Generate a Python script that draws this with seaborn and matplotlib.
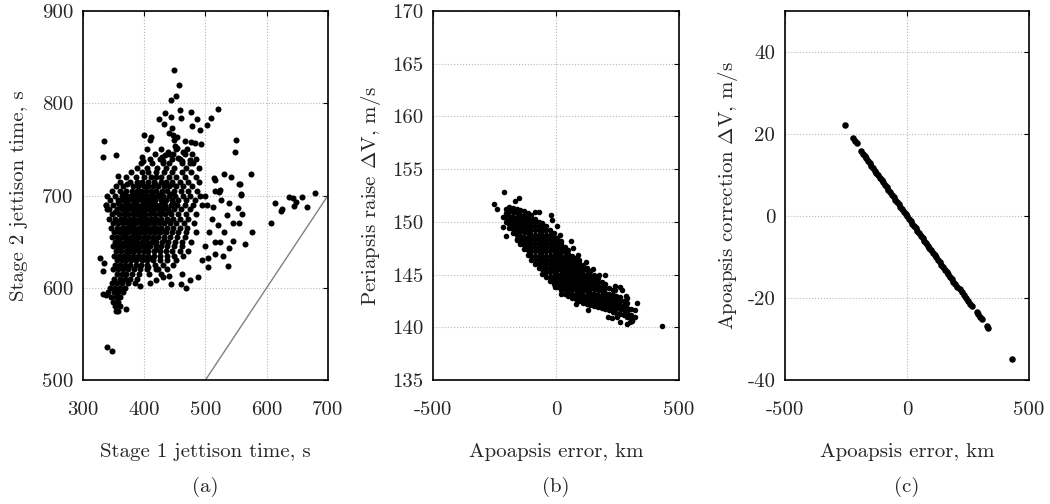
import matplotlib
matplotlib.use("Agg")
import matplotlib.pyplot as plt
import seaborn as sns
import pandas as pd

# === (a) stage jettison times, s: dense core as rows (stage 2 value: stage 1 values) ===
core_rows_a = [
    (750, [405, 428, 452, 470]),
    (745, [418, 440, 447, 478]),
    (740, [410, 425, 445, 458, 485]),
    (735, [395, 412, 431, 441, 462, 480]),
    (730, [389, 404, 421, 436, 449, 468, 490]),
    (725, [378, 396, 407, 420, 433, 445, 461, 476]),
    (720, [370, 386, 399, 411, 419, 428, 440, 452, 467, 484]),
    (715, [360, 377, 389, 397, 407, 416, 427, 436, 446, 458, 472, 489]),
    (712, [372, 394, 418, 445]),
    (710, [354, 366, 381, 390, 399, 406, 414, 423, 432, 441, 452, 463, 478]),
    (705, [348, 361, 371, 380, 388, 395, 403, 411, 420, 429, 437, 448, 460, 471, 486]),
    (702, [366, 381, 396, 412, 427, 444]),
    (700, [339, 352, 363, 370, 377, 385, 392, 399, 407, 415, 423, 431, 440, 450, 463, 475, 491]),
    (695, [344, 357, 366, 374, 381, 388, 396, 403, 410, 418, 427, 435, 445, 456, 469, 483]),
    (692, [357, 372, 386, 400, 415, 430, 447]),
    (690, [337, 349, 360, 368, 375, 382, 389, 396, 404, 411, 419, 426, 434, 443, 453, 466, 479, 495]),
    (685, [343, 355, 363, 371, 378, 385, 392, 399, 407, 414, 422, 430, 439, 449, 460, 474]),
    (682, [353, 370, 384, 398, 412, 427, 441]),
    (680, [348, 359, 367, 374, 381, 388, 395, 402, 409, 417, 425, 434, 444, 455, 468, 485]),
    (675, [342, 353, 362, 369, 377, 384, 391, 398, 405, 413, 420, 428, 437, 447, 459, 472]),
    (672, [355, 369, 383, 397, 411, 426, 440]),
    (670, [349, 358, 366, 373, 380, 387, 394, 401, 408, 416, 424, 433, 442, 452, 465, 481]),
    (665, [345, 355, 363, 370, 377, 384, 391, 398, 405, 412, 420, 428, 437, 447, 458, 470]),
    (662, [356, 371, 385, 399, 414, 430]),
    (660, [351, 360, 367, 374, 381, 388, 395, 402, 410, 418, 426, 435, 445, 456, 469, 484]),
    (655, [347, 356, 364, 371, 378, 385, 392, 399, 407, 415, 423, 432, 442, 453, 466]),
    (652, [357, 372, 386, 400, 415, 432]),
    (650, [352, 361, 368, 375, 382, 389, 396, 404, 412, 420, 429, 439, 450, 462, 477]),
    (645, [349, 358, 366, 373, 380, 387, 394, 402, 410, 419, 428, 438, 449, 461]),
    (642, [358, 373, 388, 403, 420]),
    (640, [354, 362, 370, 377, 384, 391, 399, 407, 416, 425, 435, 446, 458, 471]),
    (635, [351, 359, 367, 374, 382, 390, 398, 407, 416, 426, 437, 449, 463]),
    (632, [360, 375, 391, 410]),
    (630, [356, 364, 371, 379, 387, 396, 405, 415, 426, 438, 452]),
    (625, [353, 361, 369, 377, 386, 395, 405, 417, 431, 447]),
    (620, [349, 358, 366, 374, 383, 393, 404, 420, 437]),
    (615, [355, 363, 371, 380, 391, 408]),
    (610, [351, 360, 368, 377, 389]),
    (605, [347, 356, 364, 373, 385]),
    (600, [344, 353, 361, 369]),
    (595, [341, 350, 358, 365]),
    (590, [346, 354, 361]),
    (585, [349, 357]),
    (580, [353, 361]),
    (575, [357]),
]

# scattered runs around the core: (stage 1, stage 2)
outliers_a = [
    (449, 836), (457, 820), (452, 808), (443, 804), (520, 794), (434, 790), (458, 793),
    (477, 791), (424, 783), (444, 785), (460, 784), (433, 778), (487, 783), (509, 784),
    (502, 776), (478, 775), (491, 771), (445, 773), (440, 768), (447, 766), (399, 766),
    (411, 763), (409, 760), (454, 763), (449, 760), (450, 754), (453, 752), (466, 759),
    (477, 758), (483, 757), (492, 756), (334, 759), (332, 742), (354, 744), (550, 760),
    (548, 747), (439, 747), (434, 744), (429, 742), (431, 738), (455, 741), (464, 747),
    (467, 745), (462, 738), (475, 739), (474, 735), (397, 742), (398, 738), (358, 721),
    (575, 723), (530, 723), (542, 720), (516, 717), (514, 719), (554, 713), (524, 706),
    (522, 704), (558, 702), (637, 698), (657, 698), (679, 703), (340, 536), (347, 532),
    (354, 575), (370, 577), (352, 583), (333, 593), (337, 592), (443, 604), (460, 604),
    (469, 600), (537, 624), (505, 623), (529, 634), (504, 632), (516, 637), (538, 643),
    (524, 650), (565, 648), (545, 651), (576, 661), (607, 670), (614, 692), (624, 683),
    (625, 685), (645, 689), (643, 697), (648, 693), (666, 688), (558, 701), (556, 712),
    (332, 618), (328, 632), (334, 627), (339, 685), (338, 690), (502, 690), (512, 688),
    (525, 695), (538, 692), (553, 686), (560, 680), (545, 670), (520, 668), (530, 660),
    (506, 660), (515, 650), (500, 645), (495, 630), (488, 612), (475, 608), (462, 615),
    (441, 613), (428, 615), (422, 620), (407, 623), (430, 612), (420, 608), (410, 605),
    (393, 602), (555, 670), (535, 679), (510, 675), (500, 700), (515, 705),
]
diag_a = [500, 700]

# === (b) apoapsis error, km vs periapsis raise dV, m/s: core as columns ===
core_cols_b = [
    (-205, [150.0, 150.4, 150.8, 151.2]),
    (-190, [149.4, 149.8, 150.2, 150.6, 151.0, 151.4]),
    (-175, [148.9, 149.3, 149.7, 150.1, 150.5, 150.9, 151.3]),
    (-160, [148.4, 148.8, 149.2, 149.6, 150.0, 150.4, 150.8, 151.2]),
    (-145, [147.9, 148.3, 148.7, 149.1, 149.5, 149.9, 150.3, 150.7, 151.1]),
    (-130, [147.4, 147.8, 148.2, 148.6, 149.0, 149.4, 149.8, 150.2, 150.6, 151.0]),
    (-115, [146.9, 147.3, 147.7, 148.1, 148.5, 148.9, 149.3, 149.7, 150.1, 150.5, 150.8]),
    (-100, [146.4, 146.8, 147.2, 147.6, 148.0, 148.4, 148.8, 149.2, 149.6, 150.0, 150.4, 150.7]),
    (-85, [146.0, 146.4, 146.8, 147.2, 147.6, 148.0, 148.4, 148.8, 149.2, 149.6, 150.0, 150.3]),
    (-70, [145.6, 146.0, 146.4, 146.8, 147.2, 147.6, 148.0, 148.4, 148.8, 149.2, 149.6, 150.0]),
    (-55, [145.1, 145.5, 145.9, 146.3, 146.7, 147.1, 147.5, 147.9, 148.3, 148.7, 149.1, 149.5, 149.9]),
    (-40, [144.8, 145.2, 145.6, 146.0, 146.4, 146.8, 147.2, 147.6, 148.0, 148.4, 148.8, 149.2, 149.6]),
    (-25, [144.4, 144.8, 145.2, 145.6, 146.0, 146.4, 146.8, 147.2, 147.6, 148.0, 148.4, 148.8, 149.2]),
    (-10, [144.1, 144.5, 144.9, 145.3, 145.7, 146.1, 146.5, 146.9, 147.3, 147.7, 148.1, 148.5, 148.9]),
    (5, [143.8, 144.2, 144.6, 145.0, 145.4, 145.8, 146.2, 146.6, 147.0, 147.4, 147.8, 148.2, 148.5]),
    (20, [143.5, 143.9, 144.3, 144.7, 145.1, 145.5, 145.9, 146.3, 146.7, 147.1, 147.5, 147.9, 148.2]),
    (35, [143.2, 143.6, 144.0, 144.4, 144.8, 145.2, 145.6, 146.0, 146.4, 146.8, 147.2, 147.6]),
    (50, [143.0, 143.4, 143.8, 144.2, 144.6, 145.0, 145.4, 145.8, 146.2, 146.6, 147.0, 147.3]),
    (65, [142.8, 143.2, 143.6, 144.0, 144.4, 144.8, 145.2, 145.6, 146.0, 146.4, 146.8]),
    (80, [142.7, 143.1, 143.5, 143.9, 144.3, 144.7, 145.1, 145.5, 145.9, 146.3, 146.6]),
    (95, [142.5, 142.9, 143.3, 143.7, 144.1, 144.5, 144.9, 145.3, 145.7, 146.1, 146.4]),
    (110, [142.3, 142.7, 143.1, 143.5, 143.9, 144.3, 144.7, 145.1, 145.5, 145.9]),
    (125, [142.2, 142.6, 143.0, 143.4, 143.8, 144.2, 144.6, 145.0, 145.4, 145.6]),
    (140, [142.1, 142.5, 142.9, 143.3, 143.7, 144.1, 144.5, 144.9, 145.3]),
    (155, [142.0, 142.4, 142.8, 143.2, 143.6, 144.0, 144.4, 144.8, 145.0]),
    (170, [141.9, 142.3, 142.7, 143.1, 143.5, 143.9, 144.3, 144.7]),
    (185, [141.8, 142.2, 142.6, 143.0, 143.4, 143.8, 144.3]),
    (200, [141.7, 142.1, 142.5, 142.9, 143.3, 143.7, 144.1]),
    (215, [141.6, 142.0, 142.4, 142.8, 143.2, 143.7]),
    (230, [141.5, 141.9, 142.3, 142.7, 143.1, 143.5]),
    (245, [141.4, 141.8, 142.2, 142.6, 143.0]),
    (260, [141.3, 141.7, 142.1, 142.5, 142.9]),
    (275, [141.2, 141.6, 142.0, 142.5]),
    (290, [141.0, 141.4, 141.8, 142.3]),
    (305, [140.8, 141.2, 141.7]),
    (320, [141.0, 141.6]),
]
outliers_b = [
    (-211, 152.8), (-252, 151.7), (-165, 152.0), (-150, 152.3), (-214, 150.5),
    (-217, 149.5), (-204, 148.7), (-160, 148.3), (-84, 150.9), (-70, 150.9),
    (-20, 150.7), (-15, 150.2), (5, 149.6), (15, 148.8), (-240, 151.2), (70, 147.5),
    (90, 146.9), (120, 146.2), (60, 148.2), (150, 145.5), (175, 145.0), (200, 145.0),
    (240, 143.9), (240, 143.5), (260, 143.8), (270, 143.5), (290, 142.8), (330, 142.3),
    (287, 141.5), (226, 140.9), (249, 141.0), (308, 140.7), (300, 140.5), (290, 140.3),
    (260, 140.5), (-4, 143.8), (20, 143.2), (80, 142.2), (130, 141.6), (165, 142.0),
    (210, 141.0), (310, 140.6), (430, 140.1), (285, 143.0),
]

# === (c) apoapsis error, km vs apoapsis correction dV, m/s ===
apo_err_c = [
    -254, -220, -212, -203,
    -188, -181, -174, -167, -160, -153, -146, -139, -132, -125, -118, -111, -104, -97,
    -90, -83, -76, -69, -62, -55, -48, -41, -34, -27, -20, -13, -6, 1, 8, 15, 22, 29,
    36, 43, 50, 57, 64, 71, 78, 85, 92, 99, 106, 113, 120, 127, 134, 141, 148, 155,
    162, 169, 176, 183, 190, 197, 204,
    217, 225, 233, 241, 249, 257, 265, 286, 293, 300, 306, 328, 334, 431,
]
apo_dv_c = [
    22.2, 19.0, 18.3, 17.7,
    15.8, 15.2, 14.7, 14.1, 13.5, 12.9, 12.3, 11.7, 11.1, 10.5, 9.9, 9.3, 8.8, 8.2,
    7.6, 7.0, 6.4, 5.8, 5.2, 4.6, 4.0, 3.5, 2.9, 2.3, 1.7, 1.1, 0.5, -0.1, -0.7, -1.3, -1.9, -2.4,
    -3.0, -3.6, -4.2, -4.8, -5.4, -6.0, -6.6, -7.2, -7.7, -8.3, -8.9, -9.5, -10.1, -10.7, -11.3, -11.9, -12.5, -13.1,
    -13.6, -14.2, -14.8, -15.4, -16.0, -16.6, -17.2,
    -17.9, -18.6, -19.3, -20.0, -20.7, -21.4, -22.0, -23.3, -24.0, -24.6, -25.2, -26.8, -27.3, -34.9,
]

# === build tables ===
rows = [(x, y) for y, xs in core_rows_a for x in xs] + outliers_a
df_a = pd.DataFrame(rows, columns=["stage1", "stage2"])
rows = [(x, y) for x, ys in core_cols_b for y in ys] + outliers_b
df_b = pd.DataFrame(rows, columns=["apo_err", "peri_dv"])
df_c = pd.DataFrame({"apo_err": apo_err_c, "apo_dv": apo_dv_c})

# === style ===
sns.set_style("white")
plt.rcParams["font.family"] = ["serif"]
plt.rcParams["font.serif"] = ["cmr10", "DejaVu Serif"]
plt.rcParams["mathtext.fontset"] = "cm"
plt.rcParams["axes.unicode_minus"] = False
plt.rcParams["axes.formatter.use_mathtext"] = False

FS = 15
fig = plt.figure(figsize=(10.5, 5.04), dpi=100)
ax_a = fig.add_axes([0.079, 0.246, 0.2333, 0.732])
ax_b = fig.add_axes([0.4124, 0.246, 0.2343, 0.732])
ax_c = fig.add_axes([0.7476, 0.246, 0.2324, 0.732])

sns.scatterplot(data=df_a, x="stage1", y="stage2", ax=ax_a,
                color="black", s=19, linewidth=0, legend=False)
ax_a.plot(diag_a, diag_a, color="0.5", lw=1.0)
sns.scatterplot(data=df_b, x="apo_err", y="peri_dv", ax=ax_b,
                color="black", s=16, linewidth=0, legend=False)
sns.scatterplot(data=df_c, x="apo_err", y="apo_dv", ax=ax_c,
                color="black", s=22, linewidth=0, legend=False)

ax_a.set(xlim=(300, 700), ylim=(500, 900),
         xticks=[300, 400, 500, 600, 700], yticks=[500, 600, 700, 800, 900])
ax_b.set(xlim=(-500, 500), ylim=(135, 170),
         xticks=[-500, 0, 500], yticks=list(range(135, 171, 5)))
ax_c.set(xlim=(-500, 500), ylim=(-40, 50),
         xticks=[-500, 0, 500], yticks=[-40, -20, 0, 20, 40])

labels = [
    (ax_a, "Stage 1 jettison time, s", "Stage 2 jettison time, s", "(a)", -0.224),
    (ax_b, "Apoapsis error, km", r"Periapsis raise $\Delta$V, m/s", "(b)", -0.203),
    (ax_c, "Apoapsis error, km", r"Apoapsis correction $\Delta$V, m/s", "(c)", -0.184),
]
for ax, xl, yl, tag, ylx in labels:
    ax.grid(True, linestyle=":", color="0.72", linewidth=0.8)
    ax.set_axisbelow(True)
    ax.tick_params(direction="in", top=True, right=True, length=3.5, width=0.8,
                   labelsize=FS, color="black")
    ax.tick_params(axis="x", pad=15)
    ax.tick_params(axis="y", pad=7)
    for sp in ax.spines.values():
        sp.set_color("black")
        sp.set_linewidth(1.2)
    ax.set_xlabel(xl, fontsize=FS)
    ax.set_ylabel(yl, fontsize=FS)
    ax.xaxis.set_label_coords(0.5, -0.172)
    ax.yaxis.set_label_coords(ylx, 0.5)
    pos = ax.get_position()
    fig.text(pos.x0 + pos.width / 2, 0.034, tag, ha="center", va="center", fontsize=FS)

plt.savefig("out.png", dpi=100)
